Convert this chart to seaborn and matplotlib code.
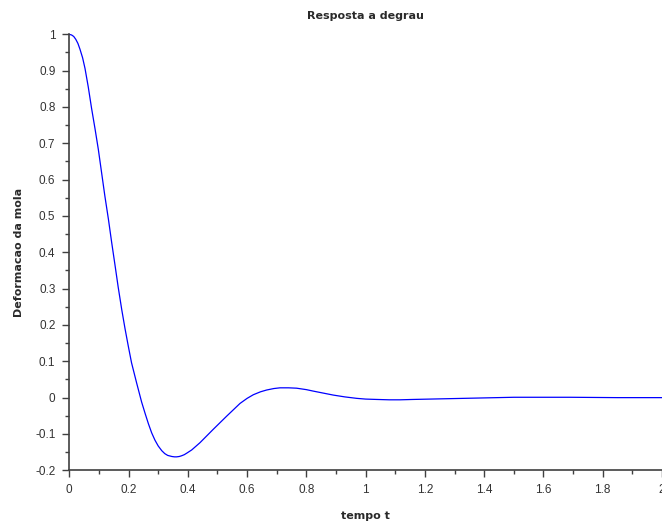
import matplotlib
matplotlib.use("Agg")
import matplotlib.pyplot as plt
import seaborn as sns
import pandas as pd
from matplotlib.ticker import MultipleLocator, FuncFormatter

# values
tempo = [0.0, 0.008, 0.015, 0.022, 0.029, 0.036, 0.045, 0.053, 0.064, 0.075,
         0.087, 0.098, 0.109, 0.120, 0.132, 0.143, 0.154, 0.165, 0.177, 0.188,
         0.199, 0.210, 0.227, 0.244, 0.256, 0.267, 0.278, 0.289, 0.300, 0.312,
         0.322, 0.332, 0.346, 0.355, 0.362, 0.371, 0.379, 0.388, 0.396, 0.413,
         0.441, 0.486, 0.531, 0.576, 0.600, 0.621, 0.645, 0.666, 0.690, 0.711,
         0.740, 0.767, 0.800, 0.823, 0.860, 0.891, 0.930, 0.970, 1.000, 1.037,
         1.080, 1.116, 1.160, 1.330, 1.500, 1.690, 1.850, 2.0]
deformacao = [1.0, 0.998, 0.994, 0.986, 0.975, 0.959, 0.935, 0.906, 0.855, 0.797,
              0.739, 0.683, 0.619, 0.555, 0.491, 0.427, 0.366, 0.304, 0.242, 0.190,
              0.142, 0.096, 0.041, -0.012, -0.044, -0.072, -0.097, -0.117, -0.133, -0.146,
              -0.154, -0.159, -0.162, -0.163, -0.163, -0.162, -0.160, -0.157, -0.153, -0.144,
              -0.124, -0.087, -0.051, -0.016, -0.002, 0.008, 0.016, 0.021, 0.025, 0.027,
              0.027, 0.026, 0.022, 0.018, 0.012, 0.007, 0.002, -0.002, -0.004, -0.005,
              -0.006, -0.006, -0.005, -0.002, 0.001, 0.001, 0.0, 0.0]

titulo = "Resposta a degrau"
rotulo_x = "tempo t"
rotulo_y = "Deformacao da mola"

sns.set_theme(style="white")
plt.rcParams["font.family"] = ["Liberation Sans", "DejaVu Sans"]

df = pd.DataFrame({"t": tempo, "y": deformacao})

fig = plt.figure(figsize=(6.62, 5.27), dpi=100)
ax = fig.add_axes([69.3 / 662, 1 - 470.3 / 527, (662 - 69.3) / 662, (470.3 - 34.3) / 527])

sns.lineplot(data=df, x="t", y="y", ax=ax, color="#0000ff", linewidth=0.9,
             sort=False, estimator=None)

ax.set_xlim(0, 2)
ax.set_ylim(-0.2, 1)
ax.xaxis.set_major_locator(MultipleLocator(0.2))
ax.xaxis.set_minor_locator(MultipleLocator(0.1))
ax.yaxis.set_major_locator(MultipleLocator(0.1))
ax.yaxis.set_minor_locator(MultipleLocator(0.05))


def fmt(v, pos):
    return "%g" % round(v, 2)


ax.xaxis.set_major_formatter(FuncFormatter(fmt))
ax.yaxis.set_major_formatter(FuncFormatter(fmt))

for s in ["top", "right"]:
    ax.spines[s].set_visible(False)
for s in ["left", "bottom"]:
    ax.spines[s].set_color("#404040")
    ax.spines[s].set_linewidth(1.2)

ax.tick_params(which="major", direction="out", length=5, width=1.0, color="#404040",
               labelsize=8.5, labelcolor="#333333", bottom=True, left=True, pad=5)
ax.tick_params(which="minor", direction="out", length=3, width=1.0, color="#404040",
               bottom=True, left=True)

ax.set_title(titulo, fontsize=8, fontweight="bold", color="#2a2a2a", pad=11,
             family=["DejaVu Sans"])
ax.set_xlabel(rotulo_x, fontsize=8, fontweight="bold", color="#2a2a2a", labelpad=11,
              family=["DejaVu Sans"])
ax.set_ylabel(rotulo_y, fontsize=8, fontweight="bold", color="#2a2a2a", labelpad=8,
              family=["DejaVu Sans"])

fig.savefig("out.png", dpi=100)
